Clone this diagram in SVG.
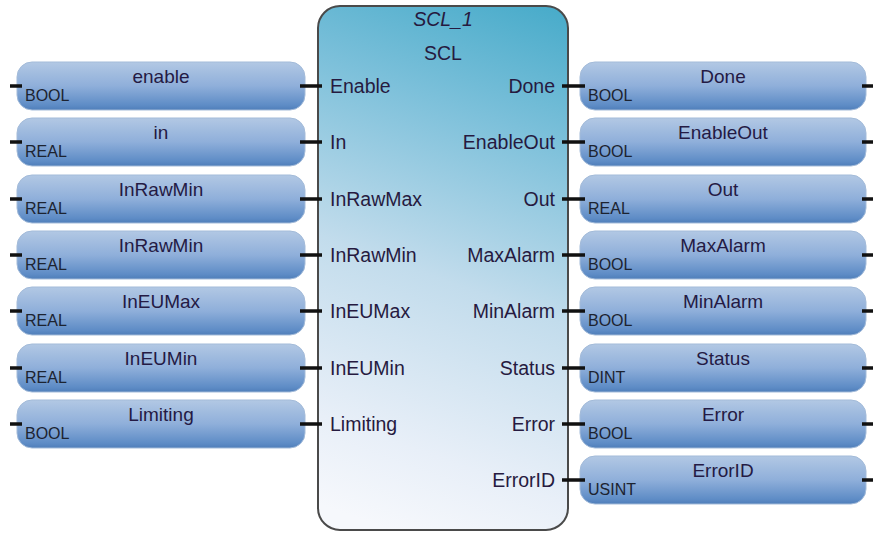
<svg xmlns="http://www.w3.org/2000/svg" width="878" height="533" viewBox="0 0 878 533">
<defs>
<linearGradient id="boxG" x1="0" y1="0" x2="0" y2="1">
<stop offset="0" stop-color="#b2c8e4"/>
<stop offset="0.5" stop-color="#8fafda"/>
<stop offset="0.9" stop-color="#5e8cc6"/>
<stop offset="1" stop-color="#4f7eb9"/>
</linearGradient>
<linearGradient id="blkG" gradientUnits="userSpaceOnUse" x1="580" y1="0" x2="390" y2="530">
<stop offset="0" stop-color="#42a9c8"/>
<stop offset="0.25" stop-color="#7cc0da"/>
<stop offset="0.55" stop-color="#c2dcec"/>
<stop offset="0.85" stop-color="#e8eff8"/>
<stop offset="1" stop-color="#f6f8fc"/>
</linearGradient>
<style>
.box{fill:url(#boxG);stroke:#a3bbd9;stroke-width:1}
.blk{fill:url(#blkG);stroke:#4a4a4a;stroke-width:2}
.lbl{font-family:"Liberation Sans",Arial,sans-serif;font-size:19px;fill:#241a44}
.typ{font-family:"Liberation Sans",Arial,sans-serif;font-size:16px;fill:#1c2330}
.pin{font-family:"Liberation Sans",Arial,sans-serif;font-size:19.5px;fill:#261a40}
.stub{stroke:#111;stroke-width:3.5;fill:none}
</style>
</defs>
<rect width="878" height="533" fill="#ffffff"/>

<g id="block">
<rect class="blk" x="318" y="6" width="250" height="524" rx="22"/>
<text class="pin" x="443" y="26" text-anchor="middle" font-style="italic">SCL_1</text>
<text class="pin" x="443" y="60" text-anchor="middle">SCL</text>
<text class="pin" x="330" y="93">Enable</text>
<text class="pin" x="330" y="149">In</text>
<text class="pin" x="330" y="206">InRawMax</text>
<text class="pin" x="330" y="262">InRawMin</text>
<text class="pin" x="330" y="318">InEUMax</text>
<text class="pin" x="330" y="375">InEUMin</text>
<text class="pin" x="330" y="431">Limiting</text>
<text class="pin" x="555" y="93" text-anchor="end">Done</text>
<text class="pin" x="555" y="149" text-anchor="end">EnableOut</text>
<text class="pin" x="555" y="206" text-anchor="end">Out</text>
<text class="pin" x="555" y="262" text-anchor="end">MaxAlarm</text>
<text class="pin" x="555" y="318" text-anchor="end">MinAlarm</text>
<text class="pin" x="555" y="375" text-anchor="end">Status</text>
<text class="pin" x="555" y="431" text-anchor="end">Error</text>
<text class="pin" x="555" y="487" text-anchor="end">ErrorID</text>
</g>

<g id="in-enable"><rect class="box" x="17" y="62" width="288" height="48" rx="15"/><text class="lbl" x="161" y="83" text-anchor="middle">enable</text><text class="typ" x="25" y="101">BOOL</text></g>
<g id="in-in"><rect class="box" x="17" y="118" width="288" height="48" rx="15"/><text class="lbl" x="161" y="139" text-anchor="middle">in</text><text class="typ" x="25" y="157">REAL</text></g>
<g id="in-inrawmax"><rect class="box" x="17" y="175" width="288" height="48" rx="15"/><text class="lbl" x="161" y="196" text-anchor="middle">InRawMin</text><text class="typ" x="25" y="214">REAL</text></g>
<g id="in-inrawmin"><rect class="box" x="17" y="231" width="288" height="48" rx="15"/><text class="lbl" x="161" y="252" text-anchor="middle">InRawMin</text><text class="typ" x="25" y="270">REAL</text></g>
<g id="in-ineumax"><rect class="box" x="17" y="287" width="288" height="48" rx="15"/><text class="lbl" x="161" y="308" text-anchor="middle">InEUMax</text><text class="typ" x="25" y="326">REAL</text></g>
<g id="in-ineumin"><rect class="box" x="17" y="344" width="288" height="48" rx="15"/><text class="lbl" x="161" y="365" text-anchor="middle">InEUMin</text><text class="typ" x="25" y="383">REAL</text></g>
<g id="in-limiting"><rect class="box" x="17" y="400" width="288" height="48" rx="15"/><text class="lbl" x="161" y="421" text-anchor="middle">Limiting</text><text class="typ" x="25" y="439">BOOL</text></g>

<g id="out-done"><rect class="box" x="580" y="62" width="286" height="48" rx="15"/><text class="lbl" x="723" y="83" text-anchor="middle">Done</text><text class="typ" x="588" y="101">BOOL</text></g>
<g id="out-enableout"><rect class="box" x="580" y="118" width="286" height="48" rx="15"/><text class="lbl" x="723" y="139" text-anchor="middle">EnableOut</text><text class="typ" x="588" y="157">BOOL</text></g>
<g id="out-out"><rect class="box" x="580" y="175" width="286" height="48" rx="15"/><text class="lbl" x="723" y="196" text-anchor="middle">Out</text><text class="typ" x="588" y="214">REAL</text></g>
<g id="out-maxalarm"><rect class="box" x="580" y="231" width="286" height="48" rx="15"/><text class="lbl" x="723" y="252" text-anchor="middle">MaxAlarm</text><text class="typ" x="588" y="270">BOOL</text></g>
<g id="out-minalarm"><rect class="box" x="580" y="287" width="286" height="48" rx="15"/><text class="lbl" x="723" y="308" text-anchor="middle">MinAlarm</text><text class="typ" x="588" y="326">BOOL</text></g>
<g id="out-status"><rect class="box" x="580" y="344" width="286" height="48" rx="15"/><text class="lbl" x="723" y="365" text-anchor="middle">Status</text><text class="typ" x="588" y="383">DINT</text></g>
<g id="out-error"><rect class="box" x="580" y="400" width="286" height="48" rx="15"/><text class="lbl" x="723" y="421" text-anchor="middle">Error</text><text class="typ" x="588" y="439">BOOL</text></g>
<g id="out-errorid"><rect class="box" x="580" y="456" width="286" height="48" rx="15"/><text class="lbl" x="723" y="477" text-anchor="middle">ErrorID</text><text class="typ" x="588" y="495">USINT</text></g>

<g id="connectors">
<path class="stub" d="M10 86h12M300 86h22M10 142h12M300 142h22M10 199h12M300 199h22M10 255h12M300 255h22M10 311h12M300 311h22M10 368h12M300 368h22M10 424h12M300 424h22"/>
<path class="stub" d="M562 86h23M862 86h11M562 142h23M862 142h11M562 199h23M862 199h11M562 255h23M862 255h11M562 311h23M862 311h11M562 368h23M862 368h11M562 424h23M862 424h11M562 480h23M862 480h11"/>
</g>
</svg>
